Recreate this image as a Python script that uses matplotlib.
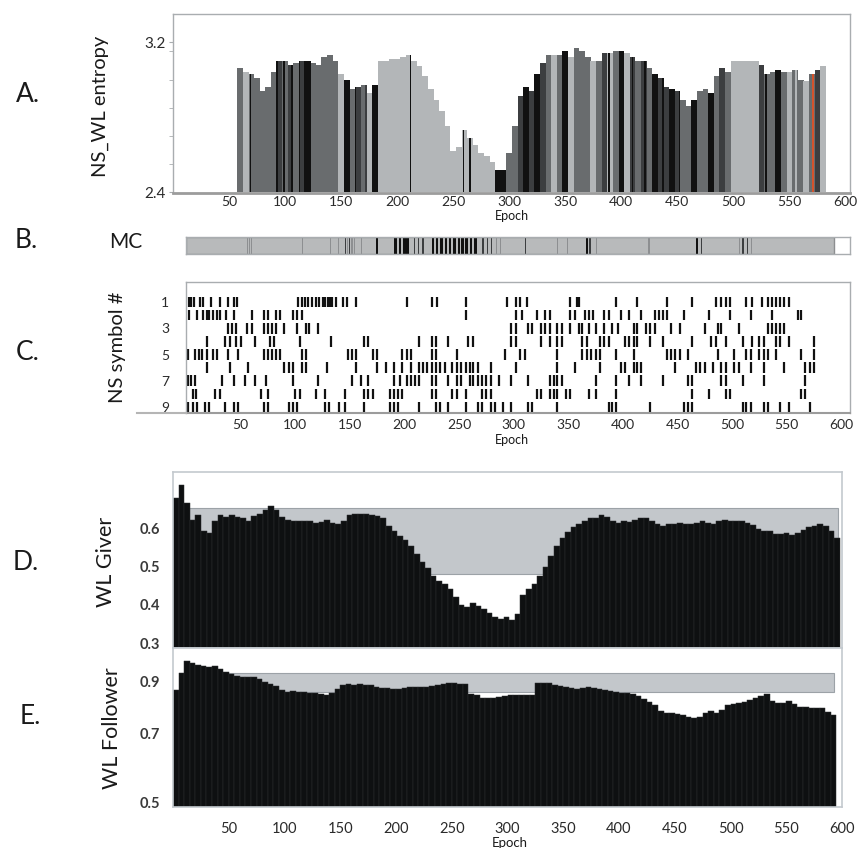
import numpy as np
import matplotlib
matplotlib.use("Agg")
import matplotlib.pyplot as plt
from matplotlib.patches import Rectangle
from matplotlib.lines import Line2D
from matplotlib.ticker import NullLocator, FixedLocator

plt.rcParams["font.family"] = ["Lato", "DejaVu Sans"]

# ---------------- data ----------------
# A. NS_WL entropy, 5-epoch bins (bin centres) + grey level of each bin
ent_epochs = np.arange(60, 581, 5)
ent_values = np.array([
    3.06, 3.04, 3.03, 3.01, 2.94, 2.96, 3.04, 3.10, 3.10, 3.08,
    3.09, 3.10, 3.10, 3.09, 3.08, 3.12, 3.13, 3.10, 3.03, 3.00,
    2.95, 2.96, 2.97, 2.93, 2.97, 3.10, 3.10, 3.11, 3.11, 3.12,
    3.13, 3.10, 3.07, 3.02, 2.95, 2.89, 2.83, 2.75, 2.62, 2.64,
    2.73, 2.69, 2.65, 2.61, 2.59, 2.56, 2.52, 2.52, 2.61, 2.75,
    2.91, 2.96, 2.94, 3.03, 3.09, 3.13, 3.13, 3.13, 3.15, 3.12,
    3.17, 3.15, 3.12, 3.10, 3.10, 3.14, 3.14, 3.15, 3.15, 3.14,
    3.12, 3.10, 3.10, 3.06, 3.03, 3.01, 2.96, 2.95, 2.94, 2.89,
    2.86, 2.89, 2.94, 2.95, 2.93, 3.02, 3.06, 3.04, 3.10, 3.10,
    3.10, 3.10, 3.10, 3.08, 3.03, 3.04, 3.05, 3.04, 3.04, 3.05,
    3.00, 2.99, 3.03, 3.05, 3.07,
])
ent_codes = list(
    "MLMMMMMDMD"
    "MDKMMMMMLK"
    "MDMLKLLLLL"
    "LLLLLLLLLL"
    "LLLLLLKKMM"
    "DKDKDMLMKL"
    "MMMLMDLMKL"
    "DMDMKDDKDM"
    "MKMMKMDMLL"
    "LLLDMMKMLM"
    "MLMDL"
)
stripe_epochs = [64, 69, 93, 99, 106, 113, 118, 122, 152, 157, 163, 172, 182,
                 212, 259, 265, 288, 296, 317, 324, 349, 389, 399, 410, 421,
                 437, 444, 452, 467, 481, 529, 541, 556, 571]
stripe_codes = list("LKKKKKKKLKKDKKKKKKKKKKKKKKKKKKKKLR")

# B. MC strip
mc_end = 593
mc_epochs = [56, 58, 60, 107, 132, 140, 146, 148, 150, 152, 154, 161, 175,
             192, 196, 200, 203, 209, 213, 217, 226, 230, 234, 238, 242, 246,
             250, 253, 257, 261, 265, 272, 276, 280, 284, 288, 311, 340, 349,
             367, 370, 376, 424, 468, 472, 507, 510, 514, 518]
mc_codes = list("GGGGGGDGDGGGKKKKKDDDKKKKKKKKKKKDDDGGDGGKDGGKDGDDG")

# C. NS symbol raster (epochs where each symbol occurs)
ns_rows = [
    [3, 5, 7, 13, 16, 23, 31, 38, 44, 47, 103, 106, 109, 112, 115, 119, 122,
     125, 127, 130, 132, 134, 137, 144, 147, 156, 202, 225, 230, 256, 294,
     302, 306, 312, 352, 358, 360, 394, 413, 440, 463, 485, 490, 494, 498,
     513, 518, 527, 533, 537, 540, 544, 548, 552],
    [3, 10, 16, 19, 21, 25, 28, 31, 37, 44, 60, 71, 75, 82, 86, 98, 102, 106,
     256, 302, 308, 321, 329, 333, 352, 356, 365, 369, 373, 383, 387, 398,
     406, 417, 429, 433, 437, 440, 456, 479, 498, 517, 537, 560, 563],
    [38, 42, 46, 56, 60, 71, 75, 79, 82, 90, 102, 110, 113, 121, 298, 302,
     313, 317, 325, 329, 333, 340, 344, 352, 360, 363, 369, 375, 383, 390,
     396, 410, 413, 421, 425, 429, 444, 452, 475, 487, 490, 506, 533, 537,
     540, 544, 548],
    [19, 36, 40, 46, 50, 63, 77, 81, 104, 133, 163, 167, 213, 225, 229, 240,
     258, 263, 298, 302, 325, 333, 340, 344, 363, 367, 379, 383, 387, 402,
     406, 410, 413, 425, 437, 463, 481, 485, 494, 510, 518, 525, 529, 540,
     544, 552, 575],
    [2, 8, 12, 15, 19, 25, 28, 38, 48, 71, 75, 79, 82, 86, 106, 110, 148, 152,
     156, 171, 175, 198, 202, 206, 225, 229, 248, 292, 306, 310, 340, 363,
     367, 371, 375, 379, 394, 410, 440, 444, 448, 452, 460, 487, 502, 513,
     517, 525, 529, 533, 540, 563, 575],
    [19, 40, 57, 90, 94, 98, 106, 110, 129, 156, 175, 183, 190, 198, 206, 213,
     217, 221, 225, 229, 233, 237, 244, 248, 252, 256, 260, 263, 267, 279,
     302, 340, 356, 379, 398, 402, 410, 413, 417, 448, 467, 471, 475, 483,
     490, 494, 502, 506, 517, 529, 548, 567, 571, 575],
    [2, 5, 8, 33, 44, 54, 63, 73, 98, 121, 152, 160, 167, 190, 196, 202, 206,
     210, 213, 225, 229, 240, 248, 252, 260, 263, 267, 271, 275, 279, 287,
     298, 313, 333, 337, 340, 344, 375, 394, 406, 417, 437, 460, 463, 490,
     494, 510, 529, 567],
    [6, 9, 27, 31, 69, 75, 100, 104, 119, 127, 146, 163, 167, 171, 187, 190,
     194, 198, 225, 229, 244, 248, 256, 271, 275, 279, 321, 325, 333, 337,
     340, 348, 352, 369, 375, 394, 463, 479, 494, 498, 563, 567],
    [2, 6, 10, 17, 21, 36, 44, 48, 71, 75, 94, 98, 102, 127, 131, 140, 146,
     163, 187, 190, 194, 213, 229, 233, 240, 256, 267, 271, 279, 283, 290,
     298, 313, 317, 340, 387, 390, 394, 425, 456, 460, 463, 510, 513, 517,
     529, 533, 544, 552, 571],
]
ns_symbols = np.arange(1, 10)

# D / E. WL Giver and WL Follower, 5-epoch bins
wl_epochs = np.arange(2.5, 595, 5)
giver = np.array([
    0.678, 0.712, 0.665, 0.622, 0.635, 0.592, 0.588, 0.620, 0.634, 0.629,
    0.634, 0.629, 0.627, 0.620, 0.632, 0.636, 0.648, 0.657, 0.648, 0.629,
    0.622, 0.618, 0.620, 0.618, 0.618, 0.614, 0.616, 0.622, 0.614, 0.612,
    0.620, 0.634, 0.638, 0.637, 0.637, 0.635, 0.631, 0.627, 0.605, 0.594,
    0.579, 0.568, 0.554, 0.532, 0.513, 0.496, 0.474, 0.463, 0.455, 0.442,
    0.420, 0.399, 0.394, 0.405, 0.396, 0.388, 0.379, 0.369, 0.364, 0.367,
    0.360, 0.377, 0.425, 0.442, 0.455, 0.474, 0.498, 0.528, 0.554, 0.575,
    0.591, 0.603, 0.612, 0.620, 0.626, 0.627, 0.634, 0.629, 0.620, 0.614,
    0.618, 0.616, 0.622, 0.627, 0.626, 0.618, 0.612, 0.605, 0.610, 0.612,
    0.614, 0.612, 0.610, 0.614, 0.618, 0.614, 0.610, 0.618, 0.622, 0.618,
    0.620, 0.620, 0.614, 0.608, 0.599, 0.594, 0.592, 0.585, 0.585, 0.588,
    0.582, 0.588, 0.596, 0.603, 0.605, 0.610, 0.605, 0.592, 0.575,
])
follower = np.array([
    0.866, 0.939, 0.997, 0.990, 0.980, 0.972, 0.970, 0.971, 0.960, 0.947,
    0.936, 0.926, 0.924, 0.924, 0.924, 0.912, 0.902, 0.893, 0.883, 0.867,
    0.859, 0.861, 0.855, 0.858, 0.854, 0.852, 0.848, 0.846, 0.852, 0.870,
    0.887, 0.892, 0.889, 0.892, 0.889, 0.886, 0.880, 0.874, 0.872, 0.869,
    0.870, 0.873, 0.877, 0.879, 0.880, 0.880, 0.884, 0.887, 0.893, 0.896,
    0.894, 0.893, 0.893, 0.849, 0.844, 0.831, 0.831, 0.832, 0.835, 0.839,
    0.844, 0.845, 0.845, 0.845, 0.845, 0.894, 0.897, 0.894, 0.886, 0.884,
    0.880, 0.873, 0.870, 0.872, 0.879, 0.873, 0.869, 0.867, 0.863, 0.859,
    0.852, 0.852, 0.849, 0.841, 0.827, 0.816, 0.803, 0.780, 0.774, 0.773,
    0.770, 0.765, 0.759, 0.754, 0.758, 0.772, 0.782, 0.774, 0.784, 0.803,
    0.809, 0.813, 0.816, 0.824, 0.831, 0.842, 0.849, 0.821, 0.811, 0.811,
    0.820, 0.808, 0.797, 0.795, 0.792, 0.791, 0.791, 0.778, 0.765,
])
giver_band = (0.48, 0.652)
follower_band = (0.857, 0.941)
band_span = (14, 593)

epoch_ticks = list(range(50, 601, 50))

# ---------------- style ----------------
GRAY = {"L": "#b3b6b8", "M": "#696c6e", "D": "#3c3e40", "K": "#111111",
        "R": "#d4532c", "G": "#8d8f91"}
FRAME = "#a9adb0"
FRAME_BLUE = "#c3c9ce"
TXT = "#2a2a2a"

W, H = 858, 848
fig = plt.figure(figsize=(W / 100, H / 100), dpi=100)


def px_box(l, t, r, b):
    return [l / W, 1 - b / H, (r - l) / W, (b - t) / H]


def fig_txt(x, y, s, **kw):
    kw.setdefault("ha", "center")
    kw.setdefault("va", "center")
    kw.setdefault("color", "#1a1a1a")
    fig.text(x / W, 1 - y / H, s, **kw)


def frame(ax, color, lw=1.0):
    for sp in ax.spines.values():
        sp.set_color(color)
        sp.set_linewidth(lw)


# ---------------- A ----------------
axA = fig.add_axes(px_box(173, 14, 850, 193))
axA.bar(ent_epochs, ent_values - 2.4, bottom=2.4, width=5.05,
        color=[GRAY[c] for c in ent_codes], linewidth=0)
stripe_h = ent_values[np.clip(np.rint((np.array(stripe_epochs) - 60) / 5).astype(int),
                              0, len(ent_values) - 1)]
axA.bar(stripe_epochs, stripe_h - 2.4, bottom=2.4, width=1.4,
        color=[GRAY[c] for c in stripe_codes], linewidth=0, zorder=3)
axA.set_xlim(0, 604)
axA.set_ylim(2.395, 3.35)
axA.set_yticks([2.4, 3.2])
axA.set_yticklabels(["2.4", "3.2"])
axA.yaxis.set_minor_locator(FixedLocator([2.55, 2.7, 2.85, 3.0, 3.15]))
axA.tick_params(axis="y", which="both", length=3, color=FRAME, labelsize=11,
                labelcolor=TXT, pad=2)
axA.set_xticks(epoch_ticks)
axA.tick_params(axis="x", length=0, labelsize=10, labelcolor=TXT, pad=2)
frame(axA, FRAME)
axA.spines["bottom"].set_linewidth(2)
axA.spines["bottom"].set_color("#9c9c9c")
fig_txt(512, 216, "Epoch", fontsize=9)

# ---------------- B ----------------
axB = fig.add_axes(px_box(186, 237, 850, 254))
axB.barh(0.5, mc_end, left=0, height=1, color="#b8babb", edgecolor="#8c8e90",
         linewidth=1)
axB.bar(mc_epochs, 1, bottom=0, width=[2.2 if c == "K" else 1.1 for c in mc_codes],
        color=[GRAY[c] for c in mc_codes], linewidth=0)
axB.set_xlim(0, 608)
axB.set_ylim(0, 1)
axB.set_xticks([])
axB.set_yticks([])
frame(axB, FRAME)

# ---------------- C ----------------
axC = fig.add_axes(px_box(186, 282, 850, 413))
axC.eventplot(ns_rows, lineoffsets=ns_symbols, linelengths=0.8,
              linewidths=1.6, colors="#111111")
axC.set_xlim(0, 608)
axC.set_ylim(9.46, -0.53)
axC.set_yticks([1, 3, 5, 7, 9])
axC.set_xticks(epoch_ticks)
axC.tick_params(axis="both", length=0, labelsize=10, labelcolor=TXT)
axC.tick_params(axis="y", pad=12)
axC.tick_params(axis="x", pad=4)
frame(axC, FRAME)
axC.spines["bottom"].set_color("#9c9c9c")
axC.spines["bottom"].set_linewidth(1.5)
fig.add_artist(Line2D([137 / W, 186 / W], [1 - 413 / H, 1 - 413 / H],
                      color="#b5b5b5", linewidth=1.5))
fig_txt(512, 440, "Epoch", fontsize=9)

# ---------------- D ----------------
axD = fig.add_axes(px_box(173, 472, 842, 648))
axD.add_patch(Rectangle((band_span[0], giver_band[0]), band_span[1] - band_span[0],
                        giver_band[1] - giver_band[0], facecolor="#c3c7cb",
                        edgecolor="#9ca2a7", linewidth=0.8, zorder=0))
axD.bar(wl_epochs, giver - 0.287, bottom=0.287, width=5, color="#0e1011",
        edgecolor="#2b2e30", linewidth=0.35, zorder=2)
axD.set_xlim(0, 597)
axD.set_ylim(0.287, 0.747)
axD.set_yticks([0.3, 0.4, 0.5, 0.6])
axD.set_yticklabels(["0.3", "0.4", "0.5", "0.6"])
axD.set_xticks([])
axD.tick_params(axis="y", length=0, labelsize=10.5, labelcolor="#3a3a3a", pad=9)
for t in axD.get_yticklabels():
    t.set_fontweight("bold")
frame(axD, FRAME_BLUE, 1.2)

# ---------------- E ----------------
axE = fig.add_axes(px_box(173, 648, 842, 807))
axE.set_yscale("log")
axE.add_patch(Rectangle((band_span[0], follower_band[0]), band_span[1] - band_span[0],
                        follower_band[1] - follower_band[0], facecolor="#c3c7cb",
                        edgecolor="#9ca2a7", linewidth=0.8, zorder=0))
axE.bar(wl_epochs, follower - 0.488, bottom=0.488, width=5, color="#0e1011",
        edgecolor="#2b2e30", linewidth=0.35, zorder=2)
axE.set_xlim(0, 597)
axE.set_ylim(0.488, 1.063)
axE.yaxis.set_minor_locator(NullLocator())
axE.set_yticks([0.5, 0.7, 0.9])
axE.set_yticklabels(["0.5", "0.7", "0.9"])
axE.set_xticks(epoch_ticks)
axE.tick_params(axis="y", length=0, labelsize=10.5, labelcolor="#3a3a3a", pad=9)
axE.tick_params(axis="x", length=0, labelsize=10.5, labelcolor=TXT, pad=11)
for t in axE.get_yticklabels():
    t.set_fontweight("bold")
frame(axE, FRAME_BLUE, 1.2)
fig_txt(510, 843, "Epoch", fontsize=9.5)

# ---------------- panel letters and y labels ----------------
fig_txt(28, 94, "A.", fontsize=19)
fig_txt(26, 241, "B.", fontsize=19)
fig_txt(28, 352, "C.", fontsize=19)
fig_txt(26, 563, "D.", fontsize=19)
fig_txt(30, 716, "E.", fontsize=19)

fig_txt(126, 242, "MC", fontsize=15)
fig_txt(100, 106, "NS_WL entropy", fontsize=14.5, rotation=90)
fig_txt(118, 347, "NS symbol #", fontsize=14.5, rotation=90)
fig_txt(106, 562, "WL Giver", fontsize=15.5, rotation=90)
fig_txt(112, 728, "WL Follower", fontsize=15.5, rotation=90)

fig.savefig("out.png", dpi=100)
